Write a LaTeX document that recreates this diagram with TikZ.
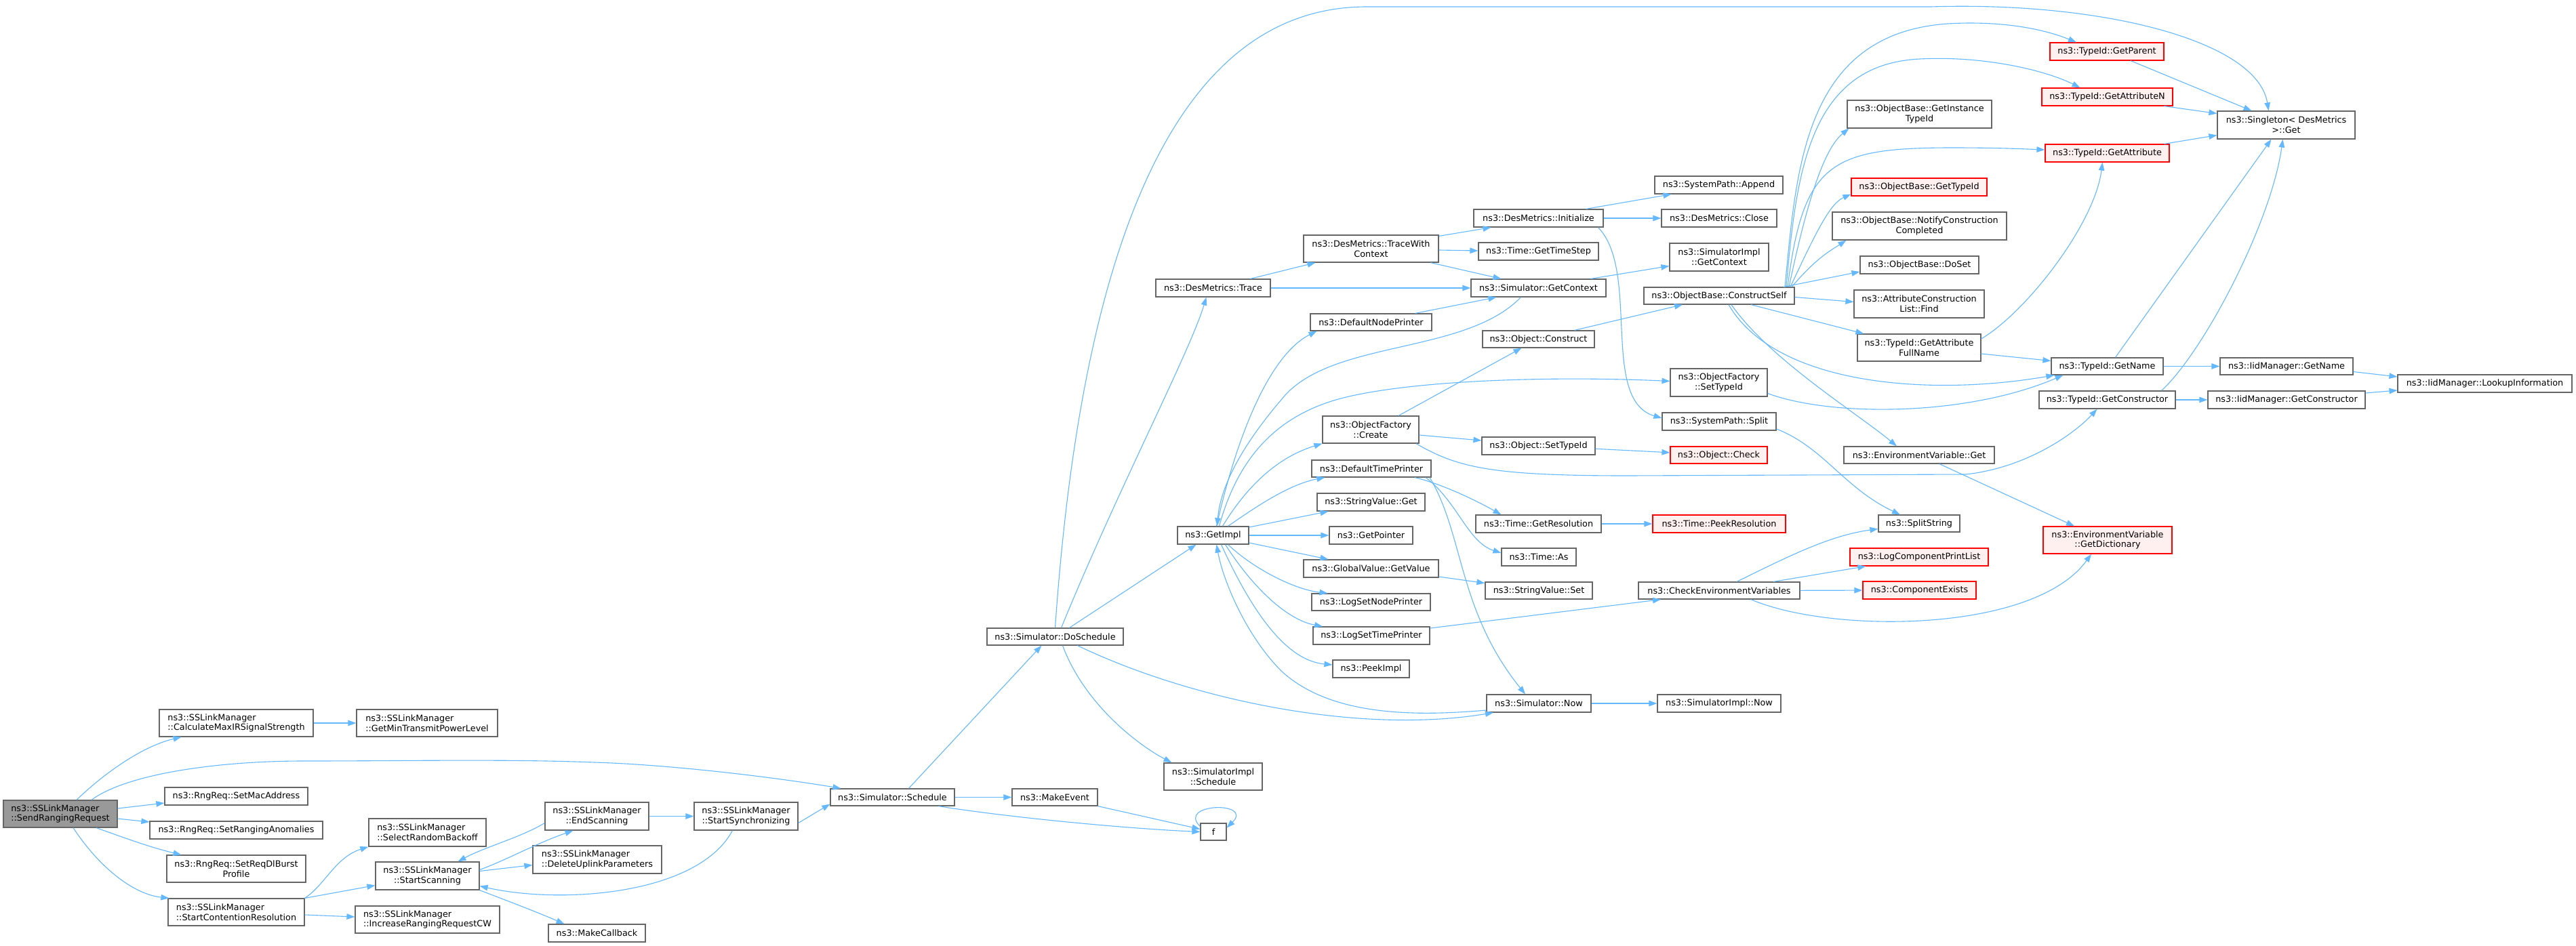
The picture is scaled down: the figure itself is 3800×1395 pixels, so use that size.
\documentclass[tikz,border=0pt]{standalone}
\usepackage{fontspec}
\setmainfont{DejaVu Sans}
\usetikzlibrary{arrows.meta}
\definecolor{edgeblue}{HTML}{63B8FF}
\definecolor{boxgray}{HTML}{666666}
\definecolor{rootgray}{HTML}{999999}
\definecolor{redfill}{HTML}{FFF0F0}
\newcommand{\callfont}{\fontsize{12.8}{14.7}\selectfont}
\tikzset{
  fn/.style={draw=boxgray, line width=1.2pt, fill=white, inner sep=0pt, font=\callfont, align=center},
  fnred/.style={fn, draw=red, fill=redfill},
  fnroot/.style={fn, fill=rootgray},
  wh/.style 2 args={minimum width=#1pt, minimum height=#2pt},
  call/.style={draw=edgeblue, line width=1.1pt, -{Triangle[length=12pt,width=8.5pt]}}
}
\begin{document}
\begin{tikzpicture}[x=1pt,y=-1pt]
\fill[white] (0,0) rectangle (3800,1395);
\useasboundingbox (0,0) rectangle (3800,1395);

\node[fnroot, wh={168}{40}, align=left] (sr) at (89,1201) {ns3::SSLinkManager\\::SendRangingRequest};

\node[fn, wh={227}{40}, align=left] (calc) at (348.5,1067) {ns3::SSLinkManager\\::CalculateMaxIRSignalStrength};
\node[fn, wh={211}{26}] (mac) at (348.5,1175) {ns3::RngReq::SetMacAddress};
\node[fn, wh={255}{26}] (anom) at (348.5,1225) {ns3::RngReq::SetRangingAnomalies};
\node[fn, wh={205}{40}] (burst) at (348.5,1282) {ns3::RngReq::SetReqDlBurst\\Profile};
\node[fn, wh={201}{40}, align=left] (scr) at (348.5,1346) {ns3::SSLinkManager\\::StartContentionResolution};

\node[fn, wh={208}{40}, align=left] (minpow) at (630,1067) {ns3::SSLinkManager\\::GetMinTransmitPowerLevel};
\node[fn, wh={173}{41}, align=left] (backoff) at (630.5,1228.5) {ns3::SSLinkManager\\::SelectRandomBackoff};
\node[fn, wh={153}{41}] (scan) at (630.5,1292.5) {ns3::SSLinkManager\\::StartScanning};
\node[fn, wh={213}{40}, align=left] (incr) at (630.5,1357) {ns3::SSLinkManager\\::IncreaseRangingRequestCW};

\node[fn, wh={153}{41}] (endscan) at (880.5,1204.5) {ns3::SSLinkManager\\::EndScanning};
\node[fn, wh={190}{41}, align=left] (uplink) at (881,1268.5) {ns3::SSLinkManager\\::DeleteUplinkParameters};
\node[fn, wh={143}{26}] (mkcb) at (880.5,1377) {ns3::MakeCallback};

\node[fn, wh={153}{41}] (sync) at (1100.5,1204.5) {ns3::SSLinkManager\\::StartSynchronizing};
\node[fn, wh={183}{25}] (sched) at (1316.5,1176.5) {ns3::Simulator::Schedule};

\node[fn, wh={201}{25}] (dosch) at (1556.5,939.5) {ns3::Simulator::DoSchedule};
\node[fn, wh={126}{25}] (mkev) at (1556,1176.5) {ns3::MakeEvent};

\node[fn, wh={169}{26}] (trace) at (1789.5,425) {ns3::DesMetrics::Trace};
\node[fn, wh={105}{26}] (getimpl) at (1789.5,790) {ns3::GetImpl};
\node[fn, wh={145}{40}] (simsch) at (1789.5,1146) {ns3::SimulatorImpl\\::Schedule};
\node[fn, wh={38}{25}] (f) at (1790,1227.5) {f};

\node[fn, wh={199}{40}] (twc) at (2022.5,367) {ns3::DesMetrics::TraceWith\\Context};
\node[fn, wh={179}{25}] (dnp) at (2022.5,475.5) {ns3::DefaultNodePrinter};
\node[fn, wh={142}{40}] (ofc) at (2022,634) {ns3::ObjectFactory\\::Create};
\node[fn, wh={176}{25}] (dtp) at (2023,691.5) {ns3::DefaultTimePrinter};
\node[fn, wh={159}{26}] (svget) at (2022.5,741) {ns3::StringValue::Get};
\node[fn, wh={123}{26}] (gptr) at (2022.5,790) {ns3::GetPointer};
\node[fn, wh={199}{26}] (gvget) at (2022.5,839) {ns3::GlobalValue::GetValue};
\node[fn, wh={175}{25}] (lsnp) at (2022.5,888.5) {ns3::LogSetNodePrinter};
\node[fn, wh={172}{26}] (lstp) at (2023,938) {ns3::LogSetTimePrinter};
\node[fn, wh={113}{26}] (peek) at (2022.5,987) {ns3::PeekImpl};

\node[fn, wh={191}{26}] (init) at (2269.5,322) {ns3::DesMetrics::Initialize};
\node[fn, wh={177}{26}] (tstep) at (2269.5,371) {ns3::Time::GetTimeStep};
\node[fn, wh={199}{26}] (sgctx) at (2269.5,425) {ns3::Simulator::GetContext};
\node[fn, wh={165}{25}] (ocons) at (2269.5,500.5) {ns3::Object::Construct};
\node[fn, wh={167}{26}] (osti) at (2269.5,658) {ns3::Object::SetTypeId};
\node[fn, wh={185}{26}] (tres) at (2269.5,773) {ns3::Time::GetResolution};
\node[fn, wh={110}{26}] (tas) at (2270,822) {ns3::Time::As};
\node[fn, wh={158}{25}] (svset) at (2270,871.5) {ns3::StringValue::Set};
\node[fn, wh={154}{26}] (snow) at (2270,1038) {ns3::Simulator::Now};

\node[fn, wh={189}{26}] (append) at (2535.5,273) {ns3::SystemPath::Append};
\node[fn, wh={170}{26}] (close) at (2536,322) {ns3::DesMetrics::Close};
\node[fn, wh={146}{41}] (sigctx) at (2536,379.5) {ns3::SimulatorImpl\\::GetContext};
\node[fn, wh={222}{25}] (cself) at (2536,436.5) {ns3::ObjectBase::ConstructSelf};
\node[fn, wh={143}{41}] (ofsti) at (2535.5,564.5) {ns3::ObjectFactory\\::SetTypeId};
\node[fn, wh={168}{26}] (split) at (2536,622) {ns3::SystemPath::Split};
\node[fnred, wh={143}{25}] (ocheck) at (2535.5,671.5) {ns3::Object::Check};
\node[fnred, wh={196}{26}] (peekres) at (2536,773) {ns3::Time::PeekResolution};
\node[fn, wh={238}{25}] (checkenv) at (2536,871.5) {ns3::CheckEnvironmentVariables};
\node[fn, wh={182}{26}] (sinow) at (2536,1038) {ns3::SimulatorImpl::Now};

\node[fn, wh={213}{41}] (ginst) at (2831.5,168.5) {ns3::ObjectBase::GetInstance\\TypeId};
\node[fnred, wh={200}{26}] (obtid) at (2831,276) {ns3::ObjectBase::GetTypeId};
\node[fn, wh={257}{41}] (notify) at (2831.5,333.5) {ns3::ObjectBase::NotifyConstruction\\Completed};
\node[fn, wh={175}{26}] (doset) at (2831.5,391) {ns3::ObjectBase::DoSet};
\node[fn, wh={192}{41}] (find) at (2831,448.5) {ns3::AttributeConstruction\\List::Find};
\node[fn, wh={182}{40}] (fullname) at (2831,513) {ns3::TypeId::GetAttribute\\FullName};
\node[fn, wh={222}{25}] (envget) at (2831,671.5) {ns3::EnvironmentVariable::Get};
\node[fn, wh={120}{25}] (splitstr) at (2831,772.5) {ns3::SplitString};
\node[fnred, wh={204}{26}] (logcpl) at (2831,822) {ns3::LogComponentPrintList};
\node[fnred, wh={167}{26}] (compex) at (2831.5,871) {ns3::ComponentExists};

\node[fnred, wh={168}{26}] (parent) at (3108,76) {ns3::TypeId::GetParent};
\node[fnred, wh={193}{26}] (attrn) at (3108.5,143) {ns3::TypeId::GetAttributeN};
\node[fnred, wh={183}{26}] (attr) at (3108.5,226) {ns3::TypeId::GetAttribute};
\node[fn, wh={165}{25}] (tname) at (3108.5,540.5) {ns3::TypeId::GetName};
\node[fn, wh={201}{26}] (tcons) at (3108.5,590) {ns3::TypeId::GetConstructor};
\node[fnred, wh={190}{40}] (dict) at (3109,797) {ns3::EnvironmentVariable\\::GetDictionary};

\node[fn, wh={203}{41}] (single) at (3372.5,184.5) {ns3::Singleton< DesMetrics\\>::Get};
\node[fn, wh={196}{25}] (iname) at (3373,540.5) {ns3::IidManager::GetName};
\node[fn, wh={232}{26}] (icons) at (3373,590) {ns3::IidManager::GetConstructor};
\node[fn, wh={257}{26}] (lookup) at (3665.5,566) {ns3::IidManager::LookupInformation};

\draw[call] ([xshift=24pt]sr.north) .. controls (160,1135) and (215,1100) .. ([xshift=-81pt]calc.south);
\draw[call] ([xshift=46pt]sr.north) .. controls (190,1140) and (330,1123) .. (446,1123) .. controls (600,1123) and (750,1120) .. (877,1125) .. controls (980,1128) and (1130,1145) .. ([xshift=-76pt]sched.north);
\draw[call] ([yshift=8pt]sr.east) -- ([yshift=-10pt]mac.west);
\draw[call] ([yshift=-7pt]sr.east) -- ([yshift=12pt]anom.west);
\draw[call] ([xshift=53pt]sr.south) .. controls (180,1235) and (220,1250) .. ([xshift=-81pt]burst.north);
\draw[call] ([xshift=19pt]sr.south) .. controls (150,1285) and (200,1320) .. ([xshift=2pt]scr.north west);
\draw[call] (calc) -- (minpow);

\draw[call] (scr.north east) .. controls (480,1305) and (495,1265) .. (backoff.south west);
\draw[call] (scr.north east) -- ([yshift=-14pt]scan.west);
\draw[call] ([yshift=-4pt]scr.east) -- ([yshift=4pt]incr.west);

\draw[call] ([yshift=9pt]scan.east) .. controls (745,1270) and (790,1245) .. ([xshift=-35pt]endscan.south);
\draw[call] ([yshift=-10pt]endscan.west) .. controls (770,1235) and (715,1250) .. ([xshift=45pt]scan.north);
\draw[call] ([yshift=7pt]scan.east) -- ([yshift=-8pt]uplink.west);
\draw[call] (scan.south east) .. controls (750,1330) and (790,1345) .. ([xshift=-48pt]mkcb.north);
\draw[call] (endscan) -- (sync);
\draw[call] ([xshift=-20pt]sync.south) .. controls (1030,1320) and (830,1335) .. ([yshift=-15pt]scan.east);
\draw[call] ([yshift=-10pt]sync.east) -- ([yshift=-10pt]sched.west);

\draw[call] ([xshift=24pt]sched.north) -- ([xshift=-20pt]dosch.south);
\draw[call] (sched) -- (mkev);
\draw[call] ([xshift=68pt]sched.south) .. controls (1480,1205) and (1650,1222) .. (f.west);
\draw[call] (mkev.south east) -- ([yshift=4pt]f.west);
\draw[call] ([yshift=8pt]f.west) .. controls (1735,1185) and (1850,1182) .. ([yshift=6pt]f.east);

\draw[call] (dosch.north) .. controls (1600,300) and (1760,10) .. (2016,10) -- (2848,10) .. controls (3100,2) and (3330,60) .. ([xshift=-26pt]single.north);
\draw[call] ([xshift=9pt]dosch.north) .. controls (1650,720) and (1755,520) .. ([xshift=-10pt]trace.south);
\draw[call] ([xshift=21pt]dosch.north) -- ([xshift=-25pt]getimpl.south);
\draw[call] ([xshift=33pt]dosch.south) .. controls (1750,1030) and (2000,1085) .. ([xshift=-67pt]snow.south);
\draw[call] ([xshift=11pt]dosch.south) .. controls (1600,1040) and (1680,1100) .. ([xshift=-61pt]simsch.north);

\draw[call] ([xshift=55pt]trace.north) -- ([xshift=-82pt]twc.south);
\draw[call] (trace) -- (sgctx);
\draw[call] ([yshift=-2pt]twc.north east) -- ([xshift=-70pt]init.south);
\draw[call] ([yshift=-2pt]twc.east) -- ([yshift=1pt]tstep.west);
\draw[call] ([xshift=88pt]twc.south) -- ([xshift=-55pt]sgctx.north);
\draw[call] ([xshift=65pt]dnp.north) -- ([xshift=-62pt]sgctx.south);
\draw[call] ([xshift=77pt]sgctx.north) -- ([yshift=-13pt]sigctx.west);
\draw[call] ([xshift=-26pt]sgctx.south) .. controls (2160,525) and (1960,500) .. (1890,590) .. controls (1830,660) and (1800,720) .. ([xshift=6pt]getimpl.north);

\draw[call] ([xshift=70pt]init.north) -- ([xshift=-70pt]append.south);
\draw[call] (init) -- (close);
\draw[call] ([xshift=88pt]init.south) .. controls (2420,400) and (2360,590) .. ([yshift=5pt]split.west);

\draw[call] ([xshift=41pt]ofc.north) -- ([xshift=-25pt]ocons.south);
\draw[call] ([yshift=-8pt]ofc.east) -- ([yshift=8pt]osti.west);
\draw[call] ([xshift=67pt]ofc.south) .. controls (2150,690) and (2200,702) .. (2400,702) -- (2900,700) .. controls (2990,690) and (3060,640) .. ([xshift=-15pt]tcons.south);
\draw[call] (osti) -- (ocheck);

\draw[call] ([xshift=22pt]getimpl.north) .. controls (1850,750) and (1900,715) .. ([xshift=20pt]dtp.south west);
\draw[call] ([xshift=14pt]getimpl.north) .. controls (1850,700) and (1900,670) .. (ofc.south west);
\draw[call] ([xshift=5pt]getimpl.north) .. controls (1830,620) and (1880,520) .. ([xshift=10pt]dnp.south west);
\draw[call] ([xshift=9pt]getimpl.north) .. controls (1825,680) and (1880,610) .. (1990,585) .. controls (2100,560) and (2300,555) .. ([yshift=2pt]ofsti.west);
\draw[call] ([yshift=12pt]getimpl.east) -- ([xshift=-63pt]svget.south);
\draw[call] (getimpl) -- (gptr);
\draw[call] ([yshift=-11pt]getimpl.east) -- ([xshift=-63pt]gvget.north);
\draw[call] ([xshift=22pt]getimpl.south) .. controls (1850,840) and (1910,870) .. ([xshift=-64pt]lsnp.north);
\draw[call] ([xshift=18pt]getimpl.south) .. controls (1850,870) and (1900,915) .. ([xshift=-72pt]lstp.north);
\draw[call] ([xshift=12pt]getimpl.south) .. controls (1850,910) and (1900,975) .. ([yshift=6pt]peek.west);
\draw[call] ([yshift=-10pt]snow.west) .. controls (2080,1058) and (1960,1055) .. (1890,990) .. controls (1840,940) and (1805,860) .. ([xshift=5pt]getimpl.south);

\draw[call] ([xshift=64pt]dtp.south) .. controls (2130,715) and (2180,740) .. ([xshift=-55pt]tres.north);
\draw[call] ([xshift=80pt]dtp.south) .. controls (2150,740) and (2165,800) .. ([yshift=6pt]tas.west);
\draw[call] ([xshift=86pt]dtp.south) .. controls (2160,790) and (2150,900) .. ([xshift=-20pt]snow.north);
\draw[call] (tres) -- (peekres);
\draw[call] ([yshift=-12pt]gvget.east) -- ([yshift=11pt]svset.west);
\draw[call] ([yshift=11pt]lstp.east) -- ([xshift=-86pt]checkenv.south);
\draw[call] (snow) -- (sinow);

\draw[call] ([xshift=53pt]ocons.north) -- ([xshift=-54pt]cself.south);
\draw[call] ([xshift=97pt]cself.north) .. controls (2650,250) and (2660,50) .. (2873,35) .. controls (2960,30) and (3020,45) .. ([xshift=-45pt]parent.north);
\draw[call] ([xshift=99pt]cself.north) .. controls (2650,250) and (2670,95) .. (2832,87) .. controls (2930,82) and (3020,105) .. ([xshift=-40pt]attrn.north);
\draw[call] ([xshift=103pt]cself.north) .. controls (2665,300) and (2690,220) .. ([xshift=3pt]ginst.south west);
\draw[call] ([xshift=101pt]cself.north) .. controls (2660,240) and (2700,218) .. (2880,218) .. controls (2950,218) and (2990,220) .. ([yshift=5pt]attr.west);
\draw[call] ([xshift=105pt]cself.north) .. controls (2680,340) and (2700,300) .. ([yshift=3pt]obtid.south west);
\draw[call] ([xshift=107pt]cself.north) .. controls (2680,380) and (2700,370) .. ([xshift=21pt]notify.south west);
\draw[call] ([xshift=95pt]cself.north) -- ([yshift=-10pt]doset.west);
\draw[call] ([yshift=-2pt]cself.east) -- ([yshift=3pt]find.west);
\draw[call] ([xshift=47pt]cself.south) -- ([xshift=10pt]fullname.north west);
\draw[call] ([xshift=14pt]cself.south) .. controls (2620,570) and (2850,585) .. ([xshift=5pt]tname.south west);
\draw[call] ([xshift=18pt]cself.south) .. controls (2610,530) and (2740,610) .. ([xshift=-33pt]envget.north);

\draw[call] ([yshift=13pt]fullname.east) .. controls (2990,460) and (3090,330) .. ([xshift=-7pt]attr.south);
\draw[call] ([yshift=-9pt]fullname.east) -- ([yshift=8pt]tname.west);
\draw[call] ([yshift=-16pt]ofsti.east) .. controls (2700,615) and (2900,615) .. ([xshift=-65pt]tname.south);

\draw[call] ([xshift=35pt]parent.south) -- ([xshift=-51pt]single.north);
\draw[call] ([xshift=84pt]attrn.south) -- ([yshift=17pt]single.west);
\draw[call] ([xshift=84pt]attr.north) -- ([yshift=-15pt]single.west);
\draw[call] ([xshift=12pt]tname.north) -- ([xshift=-22pt]single.south);
\draw[call] ([xshift=80pt]tcons.north) .. controls (3250,520) and (3350,330) .. ([xshift=-5pt]single.south);
\draw[call] (tname) -- (iname);
\draw[call] (tcons) -- (icons);
\draw[call] ([yshift=-8pt]iname.east) -- ([yshift=10pt]lookup.west);
\draw[call] ([yshift=10pt]icons.east) -- ([yshift=-10pt]lookup.west);

\draw[call] ([xshift=30pt]envget.south) -- ([xshift=-49pt]dict.north);
\draw[call] ([yshift=-11pt]split.east) .. controls (2690,660) and (2720,720) .. ([xshift=-28pt]splitstr.north);
\draw[call] ([xshift=26pt]checkenv.north) .. controls (2640,820) and (2700,790) .. ([yshift=-8pt]splitstr.west);
\draw[call] ([xshift=80pt]checkenv.north) -- ([xshift=24pt]logcpl.south west);
\draw[call] (checkenv) -- (compex);
\draw[call] ([xshift=47pt]checkenv.south) .. controls (2700,935) and (3000,935) .. ([xshift=-24pt]dict.south);
\end{tikzpicture}
\end{document}
